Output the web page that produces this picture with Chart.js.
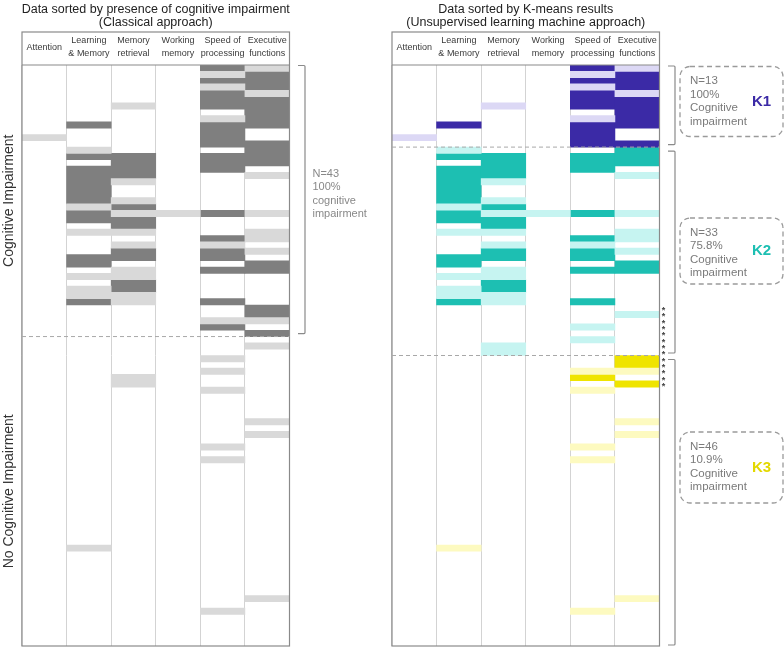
<!DOCTYPE html>
<html>
<head>
<meta charset="utf-8">
<script src="https://cdn.jsdelivr.net/npm/chart.js@4.4.0/dist/chart.umd.min.js"></script>
<style>
  body { margin: 0; background: #fff; }
  #wrap { position: relative; width: 784px; height: 649px; overflow: hidden; }
  canvas { position: absolute; top: 0; }
</style>
</head>
<body>
<div id="wrap">
  <canvas id="left" width="392" height="649" style="left:0;width:392px;height:649px"></canvas>
  <canvas id="right" width="414" height="649" style="left:370px;width:414px;height:649px"></canvas>
</div>
<script>
const domains = ['Attention', 'Learning & Memory', 'Memory retrieval', 'Working memory', 'Speed of processing', 'Executive functions'];
const headerLines = [['Attention'], ['Learning', '& Memory'], ['Memory', 'retrieval'], ['Working', 'memory'], ['Speed of', 'processing'], ['Executive', 'functions']];
const nRows = 92;
const classicalGroups = [43, 49];
const kmeansGroups = [13, 33, 46];

// patient rows (0 = top) with impairment per domain: dark = impaired, light = borderline
const classicalDark = [
  [],
  [9, 14, 16, 17, 18, 19, 20, 21, 23, 24, 30, 31, 37],
  [14, 15, 16, 17, 22, 24, 25, 29, 30, 34, 35],
  [],
  [0, 2, 4, 5, 6, 9, 10, 11, 12, 14, 15, 16, 23, 27, 29, 30, 32, 37, 41],
  [1, 2, 3, 5, 6, 7, 8, 9, 12, 13, 14, 15, 31, 32, 38, 39, 42]
];
const classicalLight = [
  [11],
  [13, 22, 26, 33, 35, 36, 76],
  [6, 18, 21, 23, 26, 28, 32, 33, 36, 37, 49, 50],
  [23],
  [1, 3, 8, 28, 40, 46, 48, 51, 60, 62, 86],
  [0, 4, 17, 23, 26, 27, 29, 40, 44, 56, 58, 84]
];
const kmeansDark = [
  [],
  [9, 14, 16, 17, 18, 19, 20, 21, 23, 24, 30, 31, 37],
  [14, 15, 16, 17, 22, 24, 25, 29, 30, 34, 35],
  [],
  [0, 2, 4, 5, 6, 9, 10, 11, 12, 14, 15, 16, 23, 27, 29, 30, 32, 37, 49],
  [1, 2, 3, 5, 6, 7, 8, 9, 12, 13, 14, 15, 31, 32, 46, 47, 50]
];
const kmeansLight = [
  [11],
  [13, 22, 26, 33, 35, 36, 76],
  [6, 18, 21, 23, 26, 28, 32, 33, 36, 37, 44, 45],
  [23],
  [1, 3, 8, 28, 41, 43, 48, 51, 60, 62, 86],
  [0, 4, 17, 23, 26, 27, 29, 39, 48, 56, 58, 84]
];
// rows whose classification differs between approaches
const flaggedRows = [38, 39, 40, 41, 42, 43, 44, 45, 46, 47, 48, 49, 50];

const clusterNames = ['K1', 'K2', 'K3'];
const clusterText = [
  ['N=13', '100%', 'Cognitive', 'impairment'],
  ['N=33', '75.8%', 'Cognitive', 'impairment'],
  ['N=46', '10.9%', 'Cognitive', 'impairment']
];
const classicalText = ['N=43', '100%', 'cognitive', 'impairment'];

const grayDark = '#7f7f7f', grayLight = '#d9d9d9';
const clusterDark = ['#3b2aa6', '#1dbfb2', '#efe400'];
const clusterLight = ['#dcd8f5', '#c6f4f1', '#fdfac0'];
const clusterLabelColor = ['#3b2aa6', '#1dbfb2', '#e3d800'];
const FONT = '"Liberation Sans", Arial, sans-serif';

function toBars(rowsPerDomain, from, to) {
  const out = [];
  rowsPerDomain.forEach((rows, c) => {
    const sorted = rows.filter(r => r >= from && r < to).sort((a, b) => a - b);
    let run = null;
    sorted.forEach(r => {
      if (run && run.y[1] === r) run.y[1] = r + 1;
      else { run = {x: domains[c], y: [r, r + 1]}; out.push(run); }
    });
  });
  return out;
}

function barSet(data, color) {
  return {data, backgroundColor: color, borderWidth: 0, grouped: false,
    barPercentage: 1, categoryPercentage: 1};
}

function baseOptions(padRight) {
  return {
    responsive: false,
    animation: false,
    layout: {padding: {left: 22, right: padRight, top: 65, bottom: 3}},
    plugins: {legend: {display: false}, tooltip: {enabled: false}},
    scales: {
      x: {type: 'category', labels: domains, position: 'top', offset: true, z: 1,
        ticks: {display: false}, border: {display: false},
        grid: {color: '#d3d3d3', lineWidth: 1, drawTicks: false, offset: true}},
      y: {type: 'linear', min: 0, max: nRows, reverse: true, display: false}
    }
  };
}

function drawFrame(chart, titles) {
  const ctx = chart.ctx, a = chart.chartArea, xs = chart.scales.x;
  ctx.save();
  ctx.fillStyle = '#222';
  ctx.textAlign = 'center';
  ctx.textBaseline = 'alphabetic';
  ctx.font = '12.5px ' + FONT;
  const cx = (a.left + a.right) / 2;
  ctx.fillText(titles[0], cx, 13);
  ctx.fillText(titles[1], cx, 26);

  ctx.font = '9px ' + FONT;
  ctx.fillStyle = '#3a3a3a';
  ctx.textBaseline = 'middle';
  headerLines.forEach((lines, i) => {
    const x = xs.getPixelForTick(i);
    if (lines.length === 1) ctx.fillText(lines[0], x, 47.5);
    else { ctx.fillText(lines[0], x, 41); ctx.fillText(lines[1], x, 54); }
  });

  ctx.strokeStyle = '#8a8a8a';
  ctx.lineWidth = 1.2;
  ctx.strokeRect(a.left, 32, a.right - a.left, a.bottom - 32);
  ctx.beginPath();
  ctx.moveTo(a.left, a.top);
  ctx.lineTo(a.right, a.top);
  ctx.stroke();
  ctx.restore();
}

function dashedRow(chart, row) {
  const ctx = chart.ctx, a = chart.chartArea, y = chart.scales.y.getPixelForValue(row);
  ctx.save();
  ctx.strokeStyle = '#a8a8a8';
  ctx.lineWidth = 1;
  ctx.setLineDash([4, 3]);
  ctx.beginPath();
  ctx.moveTo(a.left, y);
  ctx.lineTo(a.right, y);
  ctx.stroke();
  ctx.restore();
}

function bracket(ctx, x, top, bottom) {
  ctx.save();
  ctx.strokeStyle = '#8a8a8a';
  ctx.lineWidth = 1.2;
  ctx.beginPath();
  ctx.moveTo(x - 7, top);
  ctx.lineTo(x - 1, top);
  ctx.quadraticCurveTo(x, top, x, top + 1);
  ctx.lineTo(x, bottom - 1);
  ctx.quadraticCurveTo(x, bottom, x - 1, bottom);
  ctx.lineTo(x - 7, bottom);
  ctx.stroke();
  ctx.restore();
}

function textLines(ctx, lines, x, y0, step, font, color) {
  ctx.save();
  ctx.font = font;
  ctx.fillStyle = color;
  ctx.textAlign = 'left';
  ctx.textBaseline = 'middle';
  lines.forEach((t, i) => ctx.fillText(t, x, y0 + i * step));
  ctx.restore();
}

function dashedBox(ctx, x, y, w, h, r) {
  ctx.save();
  ctx.strokeStyle = '#9a9a9a';
  ctx.lineWidth = 1.3;
  ctx.setLineDash([5, 3.5]);
  ctx.beginPath();
  ctx.moveTo(x + r, y);
  ctx.lineTo(x + w - r, y);
  ctx.arcTo(x + w, y, x + w, y + r, r);
  ctx.lineTo(x + w, y + h - r);
  ctx.arcTo(x + w, y + h, x + w - r, y + h, r);
  ctx.lineTo(x + r, y + h);
  ctx.arcTo(x, y + h, x, y + h - r, r);
  ctx.lineTo(x, y + r);
  ctx.arcTo(x, y, x + r, y, r);
  ctx.closePath();
  ctx.stroke();
  ctx.restore();
}

const classicalDecor = {
  id: 'classicalDecor',
  afterDraw(chart) {
    const ctx = chart.ctx, a = chart.chartArea, ys = chart.scales.y;
    drawFrame(chart, ['Data sorted by presence of cognitive impairment', '(Classical approach)']);
    dashedRow(chart, classicalGroups[0]);
    bracket(ctx, a.right + 15.5, ys.getPixelForValue(0) + 0.5, ys.getPixelForValue(classicalGroups[0]) - 3);
    textLines(ctx, classicalText, a.right + 23, 174, 13.3, '11px ' + FONT, '#888');

    ctx.save();
    ctx.font = '14px ' + FONT;
    ctx.fillStyle = '#333';
    ctx.textAlign = 'center';
    ctx.textBaseline = 'middle';
    const labels = ['Cognitive Impairment', 'No Cognitive Impairment'];
    let start = 0;
    classicalGroups.forEach((n, i) => {
      const y = ys.getPixelForValue(start + n / 2);
      ctx.save();
      ctx.translate(9, y);
      ctx.rotate(-Math.PI / 2);
      ctx.fillText(labels[i], 0, 0);
      ctx.restore();
      start += n;
    });
    ctx.restore();
  }
};

const boxTops = [66.5, 218, 432];
const boxHeights = [70, 66, 71];

const kmeansDecor = {
  id: 'kmeansDecor',
  afterDraw(chart) {
    const ctx = chart.ctx, a = chart.chartArea, ys = chart.scales.y;
    drawFrame(chart, ['Data sorted by K-means results', '(Unsupervised learning machine approach)']);
    let start = 0;
    kmeansGroups.forEach((n, k) => {
      const end = start + n;
      if (k > 0) dashedRow(chart, start);
      const top = ys.getPixelForValue(start) + (k === 0 ? 1 : 4);
      const bottom = k === kmeansGroups.length - 1 ? a.bottom - 1 : ys.getPixelForValue(end) - 2.5;
      bracket(ctx, a.right + 15.5, top, bottom);
      const bx = a.right + 20.5, by = boxTops[k], bw = 103, bh = boxHeights[k];
      dashedBox(ctx, bx, by, bw, bh, 10);
      textLines(ctx, clusterText[k], bx + 10, by + 14.5, 13.5, '11.5px ' + FONT, '#7a7a7a');
      ctx.save();
      ctx.font = 'bold 15px ' + FONT;
      ctx.fillStyle = clusterLabelColor[k];
      ctx.textAlign = 'left';
      ctx.textBaseline = 'middle';
      ctx.fillText(clusterNames[k], bx + 72, by + bh / 2);
      ctx.restore();
      start = end;
    });
    ctx.save();
    ctx.font = 'bold 9px ' + FONT;
    ctx.fillStyle = '#444';
    ctx.textAlign = 'center';
    ctx.textBaseline = 'alphabetic';
    flaggedRows.forEach(r => ctx.fillText('*', a.right + 4, ys.getPixelForValue(r + 0.5) + 5));
    ctx.restore();
  }
};

new Chart(document.getElementById('left'), {
  type: 'bar',
  data: {labels: domains, datasets: [
    barSet(toBars(classicalLight, 0, nRows), grayLight),
    barSet(toBars(classicalDark, 0, nRows), grayDark)
  ]},
  options: baseOptions(102.5),
  plugins: [classicalDecor]
});

const kmeansSets = [];
let from = 0;
kmeansGroups.forEach((n, k) => {
  kmeansSets.push(barSet(toBars(kmeansLight, from, from + n), clusterLight[k]));
  kmeansSets.push(barSet(toBars(kmeansDark, from, from + n), clusterDark[k]));
  from += n;
});

new Chart(document.getElementById('right'), {
  type: 'bar',
  data: {labels: domains, datasets: kmeansSets},
  options: baseOptions(124.5),
  plugins: [kmeansDecor]
});
</script>
</body>
</html>
